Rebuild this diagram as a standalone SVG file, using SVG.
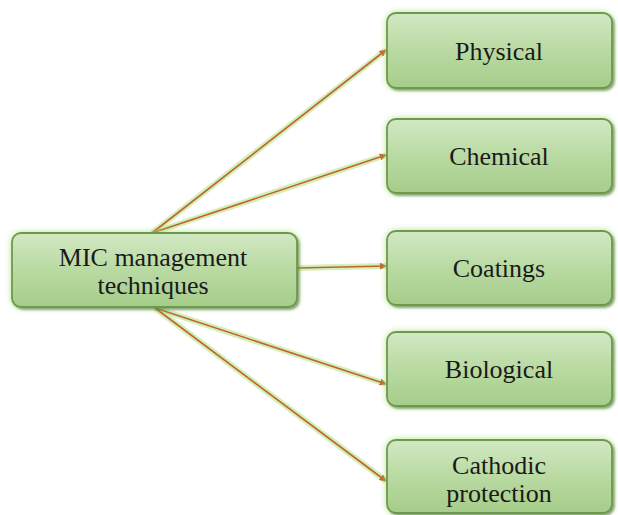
<svg xmlns="http://www.w3.org/2000/svg" width="618" height="515" viewBox="0 0 618 515">
<defs>
<linearGradient id="g" x1="0" y1="0" x2="0" y2="1">
<stop offset="0" stop-color="#d2e8c3"/>
<stop offset="0.5" stop-color="#b9daa2"/>
<stop offset="1" stop-color="#a5cd8a"/>
</linearGradient>
<filter id="glow" x="-10%" y="-25%" width="120%" height="150%">
<feGaussianBlur in="SourceAlpha" stdDeviation="3" result="b"/>
<feFlood flood-color="#a8e07c" flood-opacity="0.85"/>
<feComposite in2="b" operator="in" result="gl"/>
<feGaussianBlur in="SourceAlpha" stdDeviation="1.2" result="sb"/>
<feOffset in="sb" dx="1.5" dy="2" result="so"/>
<feFlood flood-color="#2f4a22" flood-opacity="0.55"/>
<feComposite in2="so" operator="in" result="sh"/>
<feMerge><feMergeNode in="gl"/><feMergeNode in="sh"/><feMergeNode in="SourceGraphic"/></feMerge>
</filter>
<marker id="arr" viewBox="0 0 10 10" refX="9" refY="5" markerWidth="7" markerHeight="7" orient="auto" markerUnits="userSpaceOnUse">
<path d="M0,0 L10,5 L0,10 z" fill="#c0652a"/>
</marker>
<style>
.box{fill:url(#g);stroke:#6c9a4e;stroke-width:1.8;filter:url(#glow)}
.t{font-family:"Liberation Serif",serif;font-size:26px;fill:#1a1a1a;text-anchor:middle}
.c{stroke:#c0652a;stroke-width:1.6;fill:none;marker-end:url(#arr)}
.cl{stroke:#bfe8a0;stroke-width:6;fill:none;opacity:0.7}
</style>
</defs>
<g id="connectors">
<g>
<line class="cl" x1="152" y1="233" x2="386" y2="50"/>
<line class="cl" x1="152" y1="233" x2="386" y2="155"/>
<line class="cl" x1="297" y1="268" x2="386" y2="266"/>
<line class="cl" x1="155" y1="308" x2="386" y2="384"/>
<line class="cl" x1="155" y1="308" x2="386" y2="481"/>
</g>
<line class="c" x1="152" y1="233" x2="386" y2="50"/>
<line class="c" x1="152" y1="233" x2="386" y2="155"/>
<line class="c" x1="297" y1="268" x2="386" y2="266"/>
<line class="c" x1="155" y1="308" x2="386" y2="384"/>
<line class="c" x1="155" y1="308" x2="386" y2="481"/>
</g>
<g id="main">
<rect class="box" x="12" y="233" width="285" height="74" rx="9"/>
<text class="t" x="153" y="266">MIC management</text>
<text class="t" x="153" y="294">techniques</text>
</g>
<g id="physical">
<rect class="box" x="387" y="13" width="225" height="75" rx="9"/>
<text class="t" x="499" y="60">Physical</text>
</g>
<g id="chemical">
<rect class="box" x="387" y="119" width="225" height="74" rx="9"/>
<text class="t" x="499" y="165">Chemical</text>
</g>
<g id="coatings">
<rect class="box" x="387" y="231" width="225" height="74" rx="9"/>
<text class="t" x="499" y="277">Coatings</text>
</g>
<g id="biological">
<rect class="box" x="387" y="332" width="225" height="74" rx="9"/>
<text class="t" x="499" y="378">Biological</text>
</g>
<g id="cathodic">
<rect class="box" x="387" y="440" width="225" height="73" rx="9"/>
<text class="t" x="499" y="474">Cathodic</text>
<text class="t" x="499" y="502">protection</text>
</g>
</svg>
